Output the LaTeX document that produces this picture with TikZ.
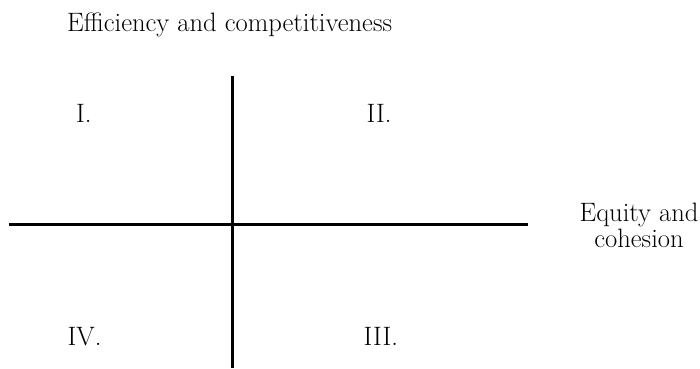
\documentclass[tikz,border=0pt]{standalone}
\tikzset{
  lbl/.style={inner sep=0pt, font=\rmfamily\fontsize{26.6}{26.6}\selectfont},
  axisline/.style={line width=2.7pt, black}
}
\begin{document}
\begin{tikzpicture}[x=1pt,y=-1pt]
\useasboundingbox (0,0) rectangle (700,368);
\coordinate (vtop) at (232.4,75.7);
\coordinate (vbot) at (232.4,368);
\coordinate (hl) at (9,224.2);
\coordinate (hr) at (527.5,224.2);
\draw[axisline] (vtop) -- (vbot);
\draw[axisline] (hl) -- (hr);
\node[lbl, anchor=base west] (title) at (67,31) {Efficiency and competitiveness};
\node[lbl, anchor=base west] (q1) at (76,122) {I.};
\node[lbl, anchor=base west] (q2) at (366.5,122) {II.};
\node[lbl, anchor=base west] (q4) at (67.5,345) {IV.};
\node[lbl, anchor=base west] (q3) at (363.5,345) {III.};
\node[lbl, anchor=base] (eq1) at (639,221) {Equity and};
\node[lbl, anchor=base] (eq2) at (639,247) {cohesion};
\end{tikzpicture}
\end{document}
